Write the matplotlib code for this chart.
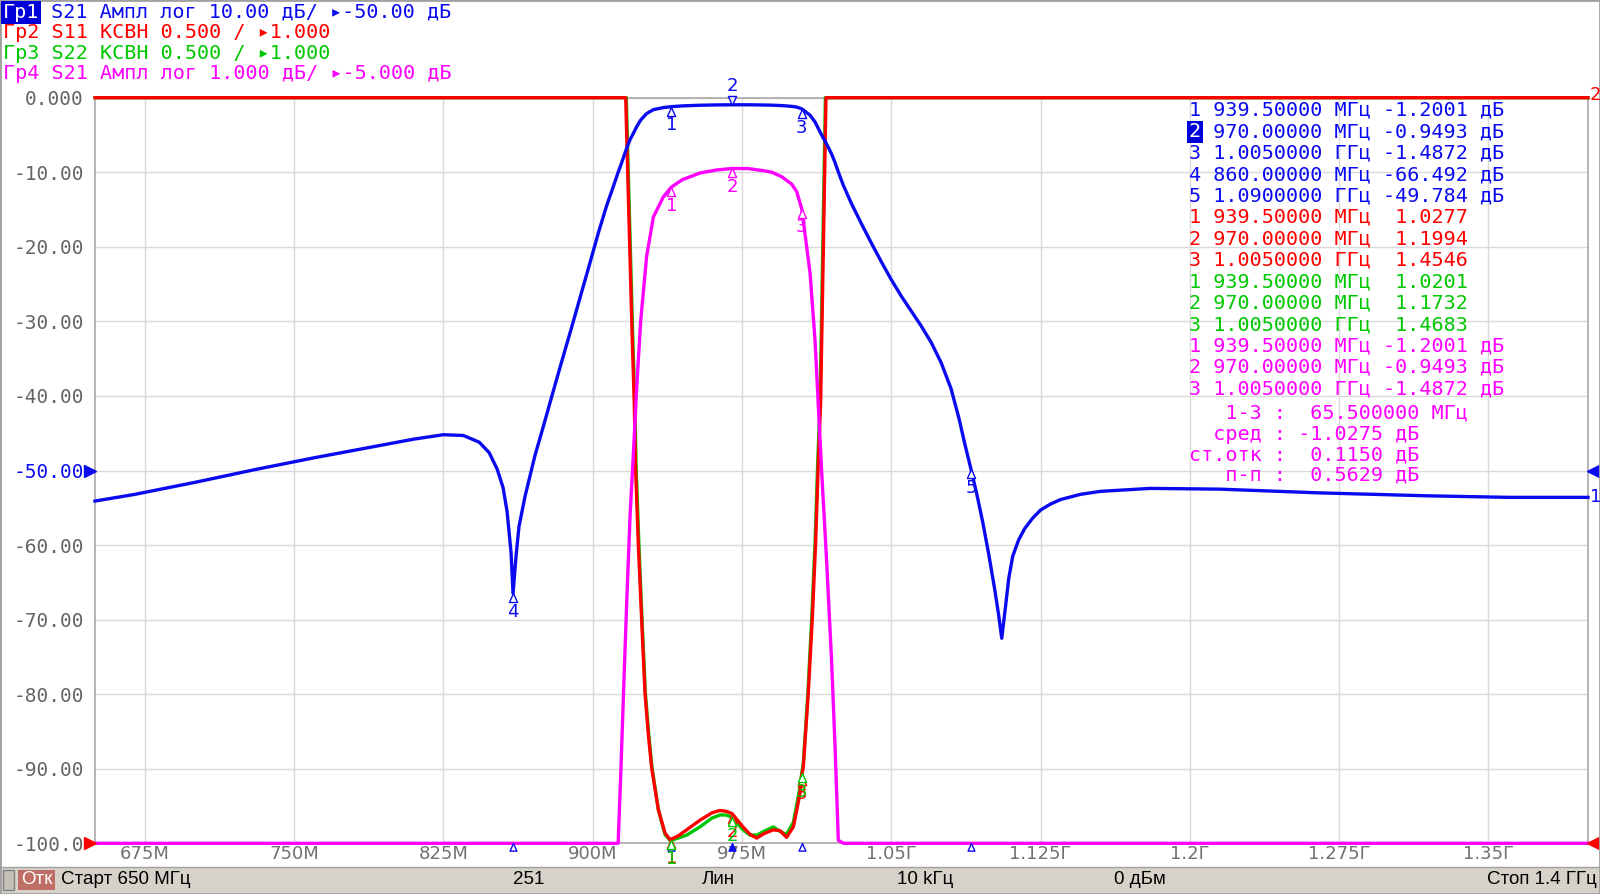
import numpy as np
import matplotlib.pyplot as plt
from matplotlib.path import Path
from matplotlib.patches import Rectangle

# ---------------- data ----------------
# S21, dB  (shown twice: Гр1 10 dB/div, Гр4 1 dB/div)
f_s21 = [650, 670, 700, 730, 760, 790, 810, 825, 835, 843, 848, 852, 855, 857, 859,
         860, 861.5, 863, 866, 871, 875, 879, 884, 889, 894, 899, 903, 907, 910, 912.8,
         914.2, 915.6, 917.2, 918.8, 920.4, 922.1, 924.1, 927.1, 930.5, 935.5, 939.5,
         945, 953.9, 962, 970, 978, 986, 990, 995, 1000, 1002.5, 1005, 1005.8, 1009.2,
         1011.7, 1013.3, 1015, 1017.5, 1020, 1021.7, 1023.4, 1026, 1030, 1035, 1040,
         1045, 1050, 1055, 1060, 1065, 1070, 1075, 1080, 1084, 1087, 1090, 1093, 1096,
         1099, 1102, 1104, 1105.5, 1107.5, 1109, 1111, 1114, 1117, 1121, 1125, 1130,
         1135, 1145, 1155, 1180, 1215, 1265, 1320, 1360, 1400]
s21_db = [-54.1, -53.2, -51.6, -49.9, -48.3, -46.8, -45.8, -45.2, -45.3, -46.2, -47.6,
          -49.8, -52.3, -55.5, -61.0, -66.492, -61.5, -57.5, -53.5, -48.0, -44.3, -40.5,
          -35.8, -31.2, -26.5, -21.8, -18.0, -14.5, -12.2, -10.0, -9.0, -7.9, -6.7, -5.6,
          -4.8, -3.9, -3.0, -2.13, -1.6, -1.33, -1.2001, -1.10, -1.01, -0.97, -0.9493,
          -0.95, -0.98, -1.0, -1.06, -1.16, -1.26, -1.4872, -1.65, -2.35, -3.25, -4.1,
          -5.0, -6.2, -7.54, -8.66, -9.96, -11.8, -14.2, -16.9, -19.5, -22.0, -24.4,
          -26.6, -28.6, -30.6, -32.8, -35.5, -39.0, -43.0, -46.5, -49.784, -53.2, -57.0,
          -61.3, -66.0, -69.5, -72.5, -68.0, -64.5, -61.5, -59.3, -57.8, -56.4, -55.3,
          -54.5, -53.9, -53.2, -52.8, -52.4, -52.5, -53.0, -53.4, -53.6, -53.6]

# S11 VSWR (6.0 = top of screen)
f_s11 = [650, 916.6, 918.7, 919.9, 920.9, 921.5, 922.9, 924.6, 926.3, 928, 929.6, 931.5,
         933, 936.3, 938.8, 939.5, 943, 947.2, 953.9, 960, 963.9, 967, 970, 975.5, 979,
         982.4, 986, 990.7, 994.1, 997.4, 1000.8, 1002.5, 1004.1, 1005, 1005.8, 1008.3,
         1010.3, 1012, 1013.3, 1014.5, 1015.9, 1017.2, 1400]
s11_swr = [6.0, 6.0, 4.955, 4.375, 3.95, 3.535, 3.015, 2.5, 2.005, 1.725, 1.51, 1.35,
           1.225, 1.07, 1.025, 1.0277, 1.05, 1.09, 1.155, 1.205, 1.22, 1.215, 1.1994,
           1.11, 1.06, 1.035, 1.065, 1.09, 1.085, 1.04, 1.11, 1.22, 1.335, 1.4546, 1.51,
           2.005, 2.5, 3.015, 3.535, 3.95, 5.0, 6.0, 6.0]

# S22 VSWR
f_s22 = [650, 916.9, 919.0, 920.2, 921.2, 921.8, 923.2, 924.8, 926.5, 928.2, 929.8, 931.6,
         933, 936.3, 938.8, 939.5, 943, 947.2, 953.9, 960, 964, 967, 970, 975.5, 979,
         982.4, 986, 990.7, 994.1, 997.4, 1000.8, 1002.5, 1004.1, 1005, 1005.8, 1008.1,
         1010.0, 1011.7, 1013.0, 1014.2, 1015.6, 1016.9, 1400]
s22_swr = [6.0, 6.0, 4.955, 4.375, 3.95, 3.535, 3.015, 2.5, 2.005, 1.725, 1.51, 1.35,
           1.225, 1.06, 1.02, 1.0201, 1.035, 1.055, 1.11, 1.17, 1.19, 1.19, 1.1732,
           1.09, 1.055, 1.055, 1.08, 1.11, 1.08, 1.06, 1.14, 1.26, 1.37, 1.4683, 1.535,
           2.005, 2.5, 3.015, 3.535, 3.95, 5.0, 6.0, 6.0]

# markers
mk_freq = [939.5, 970.0, 1005.0]
s21_mk_freq = [939.5, 970.0, 1005.0, 860.0, 1090.0]
s21_mk_val = [-1.2001, -0.9493, -1.4872, -66.492, -49.784]
s11_mk_val = [1.0277, 1.1994, 1.4546]
s22_mk_val = [1.0201, 1.1732, 1.4683]
s21b_mk_val = [-1.2001, -0.9493, -1.4872]
stat_span, stat_mean, stat_std, stat_pp = 65.5, -1.0275, 0.1150, 0.5629

x_ticks = [675, 750, 825, 900, 975, 1050, 1125, 1200, 1275, 1350]
x_tick_labels = ['675М', '750М', '825М', '900М', '975М', '1.05Г', '1.125Г', '1.2Г', '1.275Г', '1.35Г']
y_ticks = [0, -10, -20, -30, -40, -50, -60, -70, -80, -90, -100]
y_tick_labels = ['0.000', '-10.00', '-20.00', '-30.00', '-40.00', '-50.00',
                 '-60.00', '-70.00', '-80.00', '-90.00', '-100.0']

headers = ['Гр1 S21 Ампл лог 10.00 дБ/ ▸-50.00 дБ',
           'Гр2 S11 КСВН 0.500 / ▸1.000',
           'Гр3 S22 КСВН 0.500 / ▸1.000',
           'Гр4 S21 Ампл лог 1.000 дБ/ ▸-5.000 дБ']

BLUE, RED, GREEN, MAG = '#0a0af0', '#ff0000', '#00c800', '#ff00ff'
GRAY = '#646464'
MONO = ['DejaVu Sans Mono', 'DejaVu Sans']
NARROW = ['Liberation Sans', 'DejaVu Sans']
CW = 0.602 * 14.5 * 100 / 72   # mono char width, px

# =============================
# figure
# =============================
W, H = 1600, 894
fig = plt.figure(figsize=(16, 8.94), dpi=100)
fx = lambda px: px / W
fy = lambda py: 1 - py / H

ax = fig.add_axes([fx(95), fy(843.3), fx(1588) - fx(95), fy(97.7) - fy(843.3)])
ax.set_xlim(650, 1400)
ax.set_ylim(-100, 0)
ax.set_xticks(x_ticks)
ax.set_xticklabels(x_tick_labels, fontsize=13, color='#707070')
ax.set_yticks(y_ticks)
ax.set_yticklabels(y_tick_labels, family=MONO, fontsize=14, color=GRAY)
ax.get_yticklabels()[5].set_color(BLUE)
ax.tick_params(axis='x', length=0, pad=1)
ax.tick_params(axis='y', length=0, pad=8)
ax.grid(color='#dadada', lw=1)
for s in ax.spines.values():
    s.set_color('#a8a8a8')
    s.set_linewidth(1.2)

ax_g = ax.twinx(); ax_g.set_ylim(1, 6)
ax_r = ax.twinx(); ax_r.set_ylim(1, 6)
ax_m = ax.twinx(); ax_m.set_ylim(-10, 0)
ax_b = ax.twinx(); ax_b.set_ylim(-100, 0)
ax_top = ax.twinx(); ax_top.set_ylim(1, 6)   # green marker labels sit on top
for a in (ax_g, ax_r, ax_m, ax_b, ax_top):
    a.axis('off')

ax_g.plot(f_s22, np.clip(s22_swr, 1, 6), color=GREEN, lw=2.4, clip_on=False)
ax_r.plot(f_s11, np.clip(s11_swr, 1, 6), color=RED, lw=2.4, clip_on=False)
ax_m.plot(f_s21, np.clip(s21_db, -10, 0), color=MAG, lw=2.4, clip_on=False)
ax_b.plot(f_s21, np.clip(s21_db, -100, 0), color=BLUE, lw=2.4, clip_on=False)

# marker symbols: triangle with the tip on the trace
tri_up = Path([(0, 0), (-0.45, -1), (0.45, -1), (0, 0)],
              [Path.MOVETO, Path.LINETO, Path.LINETO, Path.CLOSEPOLY])
tri_dn = Path([(0, 0), (-0.45, 1), (0.45, 1), (0, 0)],
              [Path.MOVETO, Path.LINETO, Path.LINETO, Path.CLOSEPOLY])


def put_markers(a, freqs, vals, color, active=None):
    for i, (f, v) in enumerate(zip(freqs, vals)):
        n = str(i + 1)
        if i == active:
            a.plot(f, v, marker=tri_dn, ms=13, mfc='#e8e8ff', mec=color, mew=1,
                   clip_on=False, zorder=5)
            a.annotate(n, (f, v), xytext=(0, 7), textcoords='offset points',
                       ha='center', va='bottom', color=color, fontsize=13)
        else:
            a.plot(f, v, marker=tri_up, ms=13, mfc='white', mec=color, mew=1,
                   clip_on=False, zorder=5)
            a.annotate(n, (f, v), xytext=(0, -7), textcoords='offset points',
                       ha='center', va='top', color=color, fontsize=13,
                       annotation_clip=False)


put_markers(ax_r, mk_freq, s11_mk_val, RED)
put_markers(ax_top, mk_freq, s22_mk_val, GREEN)
put_markers(ax_m, mk_freq, s21b_mk_val, MAG)
put_markers(ax_b, s21_mk_freq, s21_mk_val, BLUE, active=1)

# marker positions on the frequency axis (hang below the axis line)
for i, f in enumerate(s21_mk_freq):
    ax_b.plot(f, -100, marker=tri_up, ms=11, mfc=BLUE if i == 1 else 'white',
              mec=BLUE, mew=1, clip_on=False, zorder=6)
# reference level arrows
ax_b.plot(647.5, -50, marker='>', ms=8, color=BLUE, clip_on=False)
ax_b.plot(1402.5, -50, marker='<', ms=8, color=BLUE, clip_on=False)
ax_b.plot(647.5, -100, marker='>', ms=8, color=RED, clip_on=False)
ax_b.plot(1402.5, -100, marker='<', ms=8, color=RED, clip_on=False)
fig.text(fx(1590), fy(497), '1', color=BLUE, fontsize=13, va='center')
fig.text(fx(1590), fy(95), '2', color=RED, fontsize=13, va='center')

# =============================
# header + marker table
# =============================
for i, (t, c) in enumerate(zip(headers, [BLUE, RED, GREEN, MAG])):
    if i == 0:
        fig.text(fx(3), fy(12.5), t[:3], family=MONO, fontsize=14.5, color='white', va='center',
                 bbox=dict(boxstyle='square,pad=0.08', fc='#0000d8', ec='none'))
        fig.text(fx(3 + 3 * CW), fy(12.5), t[3:], family=MONO, fontsize=14.5, color=c, va='center')
    else:
        fig.text(fx(3), fy(12.5 + 20.4 * i), t, family=MONO, fontsize=14.5, color=c, va='center')


def fstr(f):
    return f'{f / 1000:.7f} ГГц' if f >= 1000 else f'{f:.5f} МГц'


rows = []
for i, (f, v) in enumerate(zip(s21_mk_freq, s21_mk_val)):
    rows.append((f'{i + 1} {fstr(f)} {v:>7.5g} дБ', BLUE))
for i, (f, v) in enumerate(zip(mk_freq, s11_mk_val)):
    rows.append((f'{i + 1} {fstr(f)} {v:>7.5g}', RED))
for i, (f, v) in enumerate(zip(mk_freq, s22_mk_val)):
    rows.append((f'{i + 1} {fstr(f)} {v:>7.5g}', GREEN))
for i, (f, v) in enumerate(zip(mk_freq, s21b_mk_val)):
    rows.append((f'{i + 1} {fstr(f)} {v:>7.5g} дБ', MAG))
rows.append((f'   1-3 :  {stat_span:.6f} МГц', MAG))
rows.append((f'  сред : {stat_mean:.4f} дБ', MAG))
rows.append((f'ст.отк :  {stat_std:.4f} дБ', MAG))
rows.append((f'   п-п :  {stat_pp:.4f} дБ', MAG))

for i, (t, c) in enumerate(rows):
    y = 110.2 + 21.43 * i if i < 14 else 413.3 + 20.7 * (i - 14)
    if i == 1:   # active marker: number highlighted
        fig.text(fx(1189), fy(y), t[:1], family=MONO, fontsize=14.5, color='white', va='center',
                 bbox=dict(boxstyle='square,pad=0.08', fc='#0000d8', ec='none'))
        fig.text(fx(1189 + CW), fy(y), t[1:], family=MONO, fontsize=14.5, color=c, va='center')
    else:
        fig.text(fx(1189), fy(y), t, family=MONO, fontsize=14.5, color=c, va='center')

# =============================
# status bar
# =============================
fig.patches.append(Rectangle((0, 0), 1, fy(867), transform=fig.transFigure,
                             fc='#d6d2ca', ec='#a0a0a0', lw=1))
fig.patches.append(Rectangle((fx(3), fy(890)), fx(11), fy(870) - fy(890), transform=fig.transFigure,
                             fc='#c4c0b8', ec='#808080', lw=1))
fig.patches.append(Rectangle((fx(18), fy(890)), fx(37), fy(870) - fy(890), transform=fig.transFigure,
                             fc='#bf6e66', ec='none'))
ys = fy(880)
fig.text(fx(36.5), ys, 'Отк', color='white', fontsize=13.5, family=NARROW, ha='center', va='center')
fig.text(fx(61), ys, 'Старт 650 МГц', fontsize=13.5, family=NARROW, ha='left', va='center')
fig.text(fx(529), ys, '251', fontsize=13.5, family=NARROW, ha='center', va='center')
fig.text(fx(718), ys, 'Лин', fontsize=13.5, family=NARROW, ha='center', va='center')
fig.text(fx(925), ys, '10 kГц', fontsize=13.5, family=NARROW, ha='center', va='center')
fig.text(fx(1140), ys, '0 дБм', fontsize=13.5, family=NARROW, ha='center', va='center')
fig.text(fx(1597), ys, 'Стоп 1.4 ГГц', fontsize=13.5, family=NARROW, ha='right', va='center')

fig.patches.append(Rectangle((0, 0), 1, 1, transform=fig.transFigure, fill=False,
                             ec='#a0a0a0', lw=2))

fig.savefig('out.png', dpi=100, facecolor='white')
